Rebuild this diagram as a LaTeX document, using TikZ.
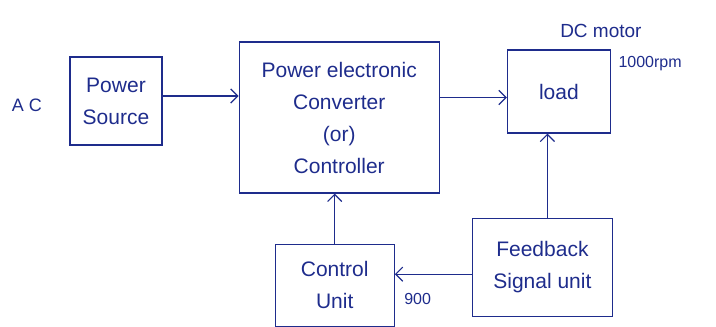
\documentclass[tikz,border=0pt]{standalone}
\usepackage{fontspec}
\setmainfont{Liberation Sans}
\usepackage{tikz}
\usetikzlibrary{positioning,arrows.meta}
\usepackage{xcolor}
\definecolor{ink}{RGB}{30,44,140}

\begin{document}
\begin{tikzpicture}[x=1pt,y=1pt,>={Straight Barb[length=2.5mm]},
  every node/.style={text=ink,font=\fontsize{21}{32}\selectfont},
  blockbox/.style={draw=ink,line width=1.2pt,align=center,inner sep=0pt},
  smalltext/.style={font=\fontsize{16}{18}\selectfont}]
\useasboundingbox (0,0) rectangle (716,327);
\node[font=\fontsize{18}{20}\selectfont] (ac) at (27,222) {A C};
\node[blockbox,minimum width=92pt,minimum height=88pt] (src) at (116,226) {Power\\ Source};
\node[blockbox,minimum width=200pt,minimum height=151pt] (conv) [right=76pt of src,yshift=-16.5pt] {Power electronic\\ Converter\\ (or)\\ Controller};
\node[blockbox,minimum width=103pt,minimum height=83pt] (load) [right=67pt of conv,yshift=26pt] {load};
\node[blockbox,minimum width=119pt,minimum height=82pt] (ctrl) [below=50pt of conv,xshift=-4.5pt] {Control\\ Unit};
\node[blockbox,minimum width=140pt,minimum height=98pt] (fb) [right=77pt of ctrl,yshift=18pt] {Feedback\\ Signal unit};
\node[font=\fontsize{19}{22}\selectfont] (motor) [above=8pt of load,xshift=42pt] {DC motor};
\node[smalltext] (rpm) [right=4pt of load.north east,yshift=-14pt,anchor=west] {1000rpm};
\node[smalltext] (speed) [right=6pt of ctrl.east,yshift=-14pt,anchor=west] {900};
\draw[->,ink,line width=1.2pt] ([yshift=5pt]src.east) -- ([yshift=5pt]src.east -| conv.west);
\draw[->,ink,line width=1.2pt] ([yshift=-6pt]load.west -| conv.east) -- ([yshift=-6pt]load.west);
\draw[->,ink,line width=1.2pt] ([xshift=5pt]fb.north) -- ([xshift=5pt]fb.north |- load.south);
\draw[->,ink,line width=1.2pt] ([yshift=-7pt]fb.west) -- ([yshift=-7pt]fb.west -| ctrl.east);
\draw[->,ink,line width=1.2pt] (ctrl.north) -- (ctrl.north |- conv.south);
\end{tikzpicture}
\end{document}
